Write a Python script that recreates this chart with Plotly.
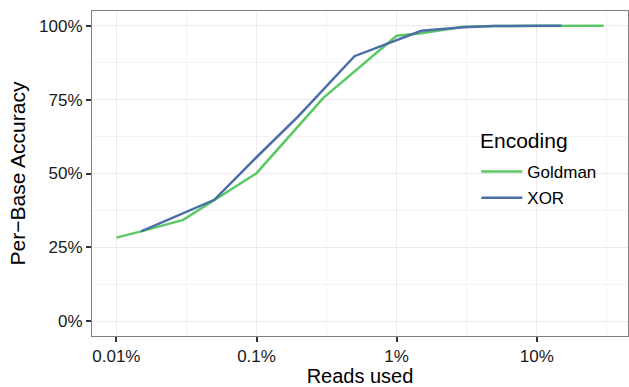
import plotly.graph_objects as go

# Data (fraction of reads used, per-base accuracy)
goldman_x = [0.0001, 0.00015, 0.0003, 0.0005, 0.001, 0.003, 0.01, 0.015, 0.03, 0.05, 0.1, 0.3]
goldman_y = [0.283, 0.304, 0.343, 0.411, 0.501, 0.756, 0.966, 0.975, 0.997, 0.999, 1.0, 1.0]
xor_x = [0.00015, 0.0003, 0.0005, 0.001, 0.002, 0.005, 0.01, 0.015, 0.03, 0.05, 0.1, 0.15]
xor_y = [0.304, 0.364, 0.411, 0.555, 0.695, 0.897, 0.951, 0.983, 0.995, 0.999, 1.0, 1.0]

x_tickvals = [0.0001, 0.001, 0.01, 0.1]
x_ticktext = ["0.01%", "0.1%", "1%", "10%"]
x_minorvals = [0.0000316, 0.000316, 0.00316, 0.0316, 0.316]
y_tickvals = [0, 0.25, 0.5, 0.75, 1.0]
y_ticktext = ["0%", "25%", "50%", "75%", "100%"]
y_minorvals = [0.125, 0.375, 0.625, 0.875]

FONT = "Liberation Sans, Arial, Helvetica, sans-serif"
GREEN = "#5cc863"
BLUE = "#4b6ea8"

fig = go.Figure()
fig.add_trace(go.Scatter(x=goldman_x, y=goldman_y, mode="lines", name="Goldman",
                         line=dict(color=GREEN, width=2.5), legendgroup="g"))
fig.add_trace(go.Scatter(x=xor_x, y=xor_y, mode="lines", name="XOR",
                         line=dict(color=BLUE, width=2.5), legendgroup="x"))

axis_common = dict(
    showline=True, linecolor="#7f7f7f", linewidth=1, mirror=True,
    ticks="outside", ticklen=5, tickwidth=1.5, tickcolor="#333333",
    gridcolor="#ebebeb", gridwidth=1, zeroline=False,
    tickfont=dict(family=FONT, size=17, color="#1a1a1a"),
)

fig.update_xaxes(
    type="log", range=[-4.174, -0.349],
    tickmode="array", tickvals=x_tickvals, ticktext=x_ticktext,
    minor=dict(tickmode="array", tickvals=x_minorvals, showgrid=True,
               gridcolor="#f4f4f4", gridwidth=1, ticks=""),
    title=dict(text="Reads used", font=dict(family=FONT, size=20, color="#000"), standoff=5),
    **axis_common,
)
fig.update_yaxes(
    range=[-0.05, 1.05],
    tickmode="array", tickvals=y_tickvals, ticktext=y_ticktext,
    minor=dict(tickmode="array", tickvals=y_minorvals, showgrid=True,
               gridcolor="#f4f4f4", gridwidth=1, ticks=""),
    title=dict(text="Per\u2212Base Accuracy", font=dict(family=FONT, size=21, color="#000"), standoff=7),
    **axis_common,
)

fig.add_annotation(
    text="Encoding", xref="paper", yref="paper",
    x=(478 - 92) / 536, y=(336 - 140) / 325, xanchor="left", yanchor="middle",
    showarrow=False, font=dict(family=FONT, size=21, color="#000"),
)

fig.update_layout(
    width=629, height=387,
    margin=dict(l=92, r=1, t=11, b=51),
    paper_bgcolor="white", plot_bgcolor="white",
    legend=dict(
        font=dict(family=FONT, size=17, color="#000"),
        x=0.717, y=(336 - 154) / 325, xanchor="left", yanchor="top",
        bgcolor="rgba(0,0,0,0)", tracegroupgap=1, itemwidth=41,
    ),
    showlegend=True,
)

fig.write_html("out.html")
